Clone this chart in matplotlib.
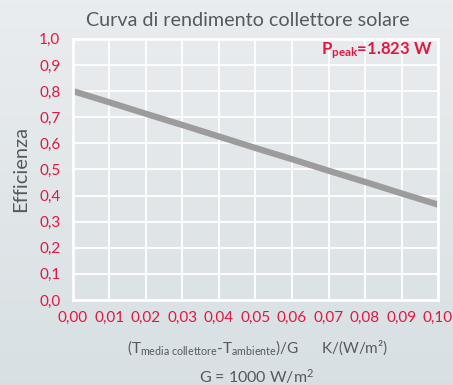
import numpy as np
import matplotlib.pyplot as plt

plt.rcParams['font.family'] = ['Lato', 'DejaVu Sans']
plt.rcParams['mathtext.fontset'] = 'custom'
plt.rcParams['mathtext.rm'] = 'Lato'
plt.rcParams['mathtext.it'] = 'Lato:italic'
plt.rcParams['mathtext.bf'] = 'Lato:bold'

# dati della curva di rendimento
x_vals = [0.00, 0.01, 0.02, 0.03, 0.04, 0.05, 0.06, 0.07, 0.08, 0.09, 0.10]
eff_vals = [0.800, 0.757, 0.713, 0.670, 0.626, 0.582, 0.539, 0.495, 0.452, 0.408, 0.365]
x_ticks = [0.00, 0.01, 0.02, 0.03, 0.04, 0.05, 0.06, 0.07, 0.08, 0.09, 0.10]
y_ticks = [0.0, 0.1, 0.2, 0.3, 0.4, 0.5, 0.6, 0.7, 0.8, 0.9, 1.0]
p_peak = '1.823 W'

RED = '#e2173f'
GREY_TXT = '#555a5e'

fig = plt.figure(figsize=(4.53, 3.85), dpi=100)

# sfondo sfumato
bg = fig.add_axes([0, 0, 1, 1], zorder=-10)
grad = np.linspace(0, 1, 256).reshape(-1, 1)
top = np.array([0.918, 0.929, 0.937])
bot = np.array([0.847, 0.878, 0.890])
img = top + (bot - top) * grad[:, :, None]
bg.imshow(img, aspect='auto', extent=[0, 1, 0, 1])
bg.axis('off')

ax = fig.add_axes([0.161, 0.221, 0.806, 0.678])
ax.set_facecolor('none')
ax.plot(x_vals, eff_vals, color='#9c9c9c', lw=4.5, solid_capstyle='butt')

ax.set_xlim(0, 0.10)
ax.set_ylim(0, 1.0)
ax.set_xticks(x_ticks)
ax.set_yticks(y_ticks)
ax.set_xticklabels([f'{v:.2f}'.replace('.', ',') for v in x_ticks])
ax.set_yticklabels([f'{v:.1f}'.replace('.', ',') for v in y_ticks])
ax.tick_params(length=0, colors=RED, labelsize=11)
ax.tick_params(axis='x', pad=8)
ax.tick_params(axis='y', pad=9)
ax.grid(True, color='white', lw=1.3)
for s in ax.spines.values():
    s.set_color('white')
    s.set_linewidth(2)

ax.set_ylabel('Efficienza', fontsize=14.5, color=GREY_TXT, labelpad=7)

ax.text(0.985, 0.955, r'$\mathbf{P_{peak}}$=' + p_peak,
        transform=ax.transAxes, ha='right', va='center', color=RED,
        fontsize=12, fontweight='bold')

fig.text(0.547, 0.948, 'Curva di rendimento collettore solare', ha='center', va='center',
         fontsize=14.2, color=GREY_TXT)
fig.text(0.568, 0.097, r'(T$_{\mathrm{media\ collettore}}$-T$_{\mathrm{ambiente}}$)/G      K/(W/m²)',
         ha='center', va='center', fontsize=11, color=GREY_TXT)
fig.text(0.567, 0.022, 'G = 1000 W/m$^{2}$', ha='center', va='center', fontsize=11.5, color=GREY_TXT)

fig.savefig('out.png', dpi=100)
